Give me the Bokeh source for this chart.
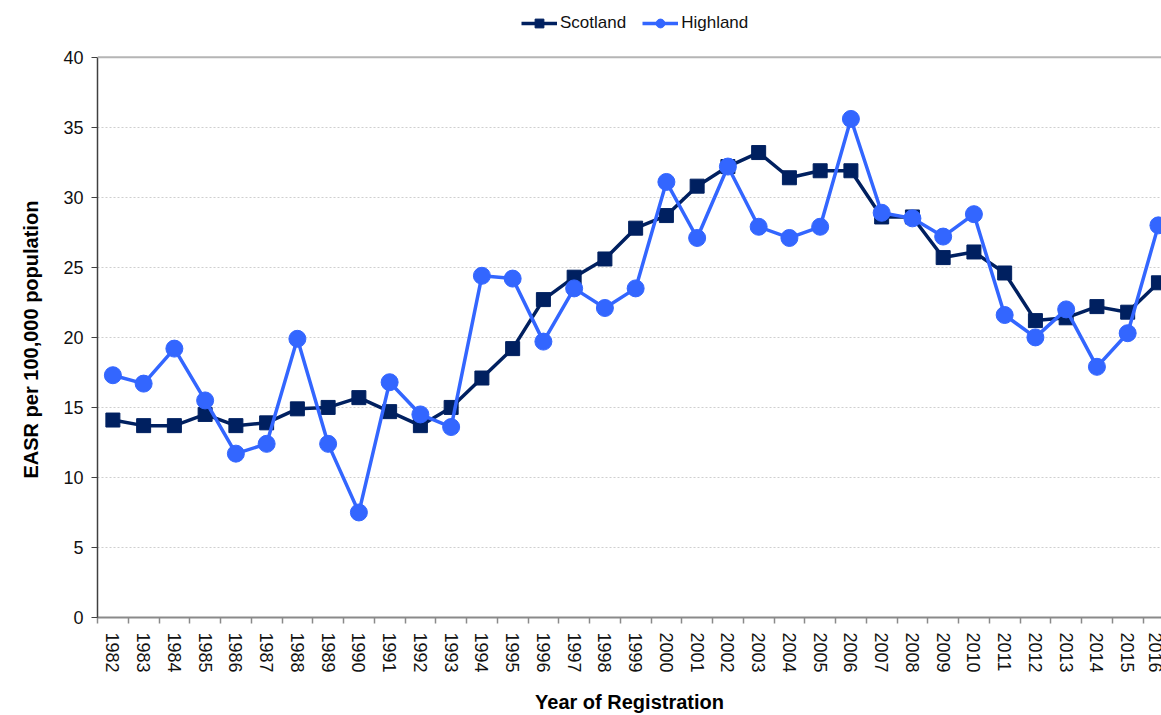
from bokeh.plotting import figure
from bokeh.models import Range1d, FixedTicker, Legend, LegendItem, Span, Title
from bokeh.embed import file_html
from bokeh.resources import INLINE

years = ["1982", "1983", "1984", "1985", "1986", "1987", "1988", "1989", "1990",
         "1991", "1992", "1993", "1994", "1995", "1996", "1997", "1998", "1999",
         "2000", "2001", "2002", "2003", "2004", "2005", "2006", "2007", "2008",
         "2009", "2010", "2011", "2012", "2013", "2014", "2015", "2016"]
scotland = [14.1, 13.7, 13.7, 14.5, 13.7, 13.9, 14.9, 15.0, 15.7, 14.7, 13.7, 15.0,
            17.1, 19.2, 22.7, 24.3, 25.6, 27.8, 28.7, 30.8, 32.2, 33.2, 31.4, 31.9,
            31.9, 28.6, 28.6, 25.7, 26.1, 24.6, 21.2, 21.4, 22.2, 21.8, 23.9]
highland = [17.3, 16.7, 19.2, 15.5, 11.7, 12.4, 19.9, 12.4, 7.5, 16.8, 14.5, 13.6,
            24.4, 24.2, 19.7, 23.5, 22.1, 23.5, 31.1, 27.1, 32.2, 27.9, 27.1, 27.9,
            35.6, 28.9, 28.5, 27.2, 28.8, 21.6, 20.0, 22.0, 17.9, 20.3, 28.0]
y_ticks = [0, 5, 10, 15, 20, 25, 30, 35, 40]

FONT = "Liberation Sans"
NAVY = "#002060"
BLUE = "#3366FF"

xs = list(range(len(years)))

# frame spans the full height above the x axis; the extra room above 40 holds the legend
y_top = y_ticks[-1] + 57 / (562 / y_ticks[-1])

p = figure(width=1161, height=715, output_backend="svg", toolbar_location=None,
           x_range=Range1d(-0.5, 34.1), y_range=Range1d(0, y_top))
p.min_border_left = 97
p.min_border_right = 0
p.min_border_top = 0
p.min_border_bottom = 96
p.outline_line_color = None
p.background_fill_color = "white"
p.border_fill_color = "white"

# grid
p.xgrid.grid_line_color = None
p.ygrid.ticker = FixedTicker(ticks=y_ticks[1:-1])
p.ygrid.grid_line_color = "#cfcfcf"
p.ygrid.grid_line_dash = "2 2"
p.ygrid.grid_line_width = 1
p.add_layout(Span(location=y_ticks[-1], dimension="width", line_color="#b5b5b5", line_width=2))

# y axis
ya = p.yaxis[0]
ya.ticker = FixedTicker(ticks=y_ticks)
ya.bounds = (y_ticks[0], y_ticks[-1])
ya.axis_line_color = "#404040"
ya.axis_line_width = 1.5
ya.major_tick_line_color = "#404040"
ya.major_tick_out = 6
ya.major_tick_in = 0
ya.minor_tick_line_color = None
ya.major_label_standoff = 8
ya.major_label_text_font = FONT
ya.major_label_text_font_size = "18px"
ya.major_label_text_color = "#111111"

# y axis title, centred on the 0-40 part of the axis
ytitle = Title(text="EASR per 100,000 population", align="left", offset=139,
               vertical_align="top",
               text_font=FONT, text_font_style="bold", text_font_size="20px",
               text_color="#000000", standoff=34)
p.add_layout(ytitle, "left")

# x axis
xa = p.xaxis[0]
xa.ticker = FixedTicker(ticks=xs, minor_ticks=[i - 0.5 for i in xs] + [xs[-1] + 0.5])
xa.major_label_overrides = {i: y for i, y in zip(xs, years)}
xa.major_label_orientation = "vertical"
xa.axis_line_color = "#8a8a8a"
xa.axis_line_width = 2
xa.major_tick_out = 0
xa.major_tick_in = 0
xa.minor_tick_out = 6
xa.minor_tick_in = 0
xa.minor_tick_line_color = "#8a8a8a"
xa.minor_tick_line_width = 1.5
xa.major_label_standoff = 9
xa.major_label_text_font = FONT
xa.major_label_text_font_size = "18px"
xa.major_label_text_color = "#111111"
xa.axis_label = "Year of Registration"
xa.axis_label_text_font = FONT
xa.axis_label_text_font_style = "bold"
xa.axis_label_text_font_size = "20px"
xa.axis_label_text_color = "#000000"
xa.axis_label_standoff = 15

# series
l1 = p.line(xs, scotland, line_color=NAVY, line_width=3.5)
s1 = p.scatter(xs, scotland, marker="square", size=14, fill_color=NAVY, line_color=NAVY)
l2 = p.line(xs, highland, line_color=BLUE, line_width=3.5)
s2 = p.scatter(xs, highland, marker="circle", size=17, fill_color=BLUE, line_color=BLUE)

legend = Legend(items=[LegendItem(label="Scotland", renderers=[l1, s1]),
                       LegendItem(label="Highland", renderers=[l2, s2])],
                orientation="horizontal", location=(424, 583), padding=0, margin=0,
                spacing=16, glyph_width=36, glyph_height=22, label_height=22,
                label_standoff=3, label_text_font=FONT, label_text_font_size="17px",
                label_text_color="#111111",
                border_line_alpha=0, background_fill_alpha=0)
p.add_layout(legend, "center")

open("out.html", "w").write(file_html(p, INLINE))
